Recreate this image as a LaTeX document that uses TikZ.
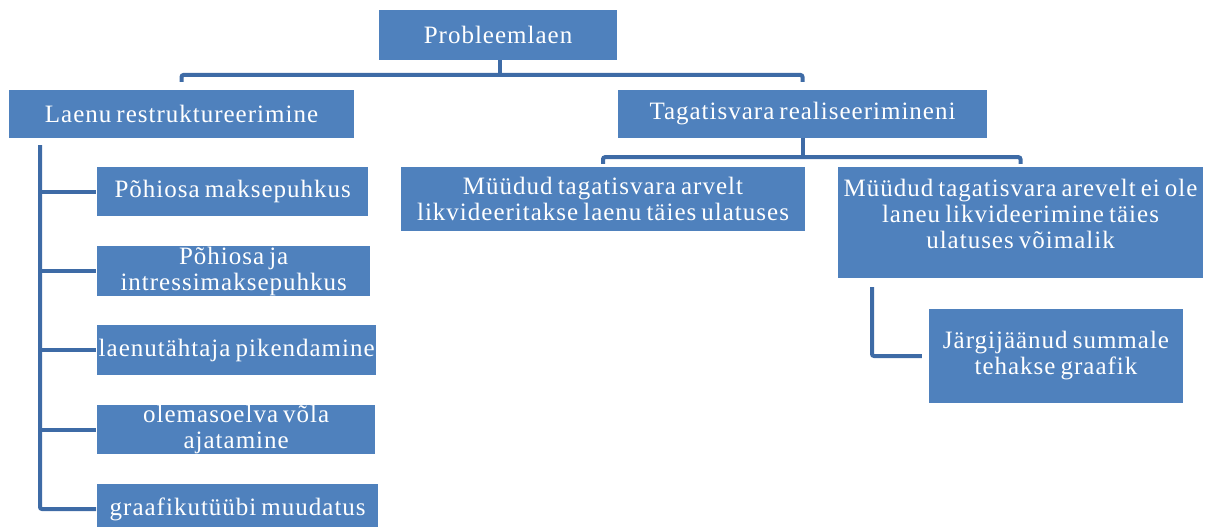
\documentclass[tikz,border=0pt]{standalone}
\usepackage{fontspec}
\setmainfont[LetterSpace=4,WordSpace=0.7]{Liberation Serif}
\definecolor{boxblue}{HTML}{4F81BD}
\definecolor{lineblue}{HTML}{3E6BA6}
\begin{document}
\begin{tikzpicture}[x=1pt,y=-1pt,
  box/.style={fill=boxblue, text=white, align=center, inner sep=0pt, font=\fontsize{25}{26}\selectfont},
  boxtext/.style={text=white, align=center, inner sep=0pt, font=\fontsize{25}{26}\selectfont},
  conn/.style={draw=lineblue, line width=4pt, rounded corners=2pt, line cap=butt}]
\useasboundingbox (0,0) rectangle (1216,527);
\node[box, minimum width=238, minimum height=50] (p) at (498,35) {Probleemlaen};
\node[box, minimum width=345, minimum height=48] (l) at (181.5,114) {Laenu restruktureerimine};
\node[box, minimum width=369, minimum height=48] (t) at (802.5,114) {Tagatisvara realiseerimineni};
\node[box, minimum width=404, minimum height=64] (m1) at (603,199) {Müüdud tagatisvara arvelt\\likvideeritakse laenu täies ulatuses};
\node[box, minimum width=365, minimum height=111] (m2) at (1020.5,222.5) {};
\node[boxtext] (m2t) at ([yshift=9pt]m2.center) {Müüdud tagatisvara arevelt ei ole\\laneu likvideerimine täies\\ulatuses võimalik};
\node[box, minimum width=254, minimum height=94] (j) at (1056,356) {Järgijäänud summale\\tehakse graafik};
\node[box, minimum width=271, minimum height=49, anchor=west] (s1) at (97,191.5) {Põhiosa maksepuhkus};
\node[box, minimum width=273, minimum height=50, anchor=west] (s2) at (97,271) {Põhiosa ja\\intressimaksepuhkus};
\node[box, minimum width=279, minimum height=50, anchor=west] (s3) at (97,350) {laenutähtaja pikendamine};
\node[box, minimum width=278, minimum height=49, anchor=west] (s4) at (97,429.5) {olemasoelva võla\\ajatamine};
\node[box, minimum width=281, minimum height=50, anchor=west] (s5) at (97,509) {graafikutüübi muudatus};
% connectors
\coordinate (b1) at (500,75);
\draw[conn] (p.south -| b1) -- (b1);
\draw[conn] ([yshift=8pt]l.north) |- (b1) -| ([yshift=8pt]t.north);
\coordinate (b2) at ([yshift=-19pt]t.south);
\draw[conn] (t.south) -- (b2);
\draw[conn] ([yshift=3pt]m1.north) |- (b2) -| ([yshift=3pt]m2.north);
\coordinate (lt) at (40,145);
\draw[conn] (lt) |- ([xshift=-1pt]s5.west);
\foreach \s in {s1,s2,s3,s4} \draw[conn, rounded corners=0pt] (lt |- \s.west) -- ([xshift=-1pt]\s.west);
\coordinate (rt) at (872,287);
\draw[conn] (rt) |- ([xshift=-7pt]j.west);
\end{tikzpicture}
\end{document}
